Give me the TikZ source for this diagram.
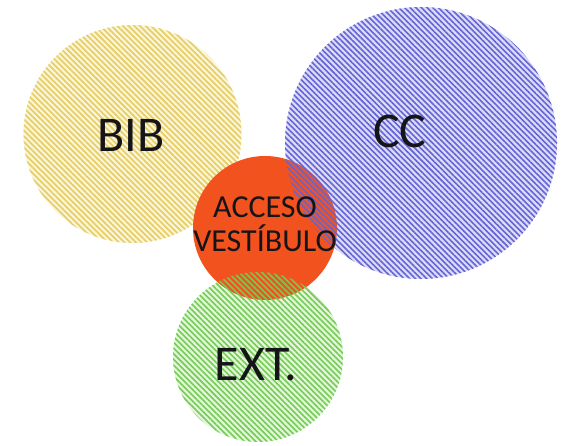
\documentclass[tikz,border=0pt]{standalone}
\usepackage{fontspec}
\setmainfont{Carlito}
\usetikzlibrary{patterns.meta}
\definecolor{bibline}{RGB}{230,204,100}
\definecolor{bibpale}{RGB}{250,245,212}
\definecolor{ccline}{RGB}{100,100,214}
\definecolor{ccpale}{RGB}{220,220,248}
\definecolor{extline}{RGB}{115,205,85}
\definecolor{extpale}{RGB}{228,246,218}
\definecolor{accfill}{RGB}{242,82,30}
\definecolor{txt}{RGB}{20,20,25}
\tikzset{
  bubble/.style={circle, inner sep=0pt, outer sep=0pt, draw=none},
  hatch/.style={pattern={Lines[angle=-45,distance=4bp,line width=1.6bp]}, pattern color=#1},
  bigtext/.style={anchor=base, inner sep=0pt, text=txt, font=\fontsize{50bp}{60bp}\selectfont},
  smalltext/.style={anchor=base, inner sep=0pt, text=txt, font=\fontsize{32bp}{34bp}\selectfont}
}
\begin{document}
\begin{tikzpicture}[x=1bp,y=-1bp]
\useasboundingbox[fill=white] (0,0) rectangle (569,446);
% BIB
\node[bubble, minimum size=218bp, fill=bibpale] (bib) at (132.5,134) {};
\path[hatch=bibline] (bib.center) circle[radius=109];
% CC and EXT pale fills
\node[bubble, minimum size=272bp, fill=ccpale] (cc) at (421,143) {};
\node[bubble, minimum size=170bp, fill=extpale] (ext) at (258,357) {};
% ACCESO
\node[bubble, minimum size=144bp, fill=accfill] (acc) at (265,228) {};
% hatching over the orange circle
\path[hatch=ccline] (cc.center) circle[radius=136];
\path[hatch=extline] (ext.center) circle[radius=85];
% labels
\node[bigtext] (bibt) at (131,152) {BIB};
\node[bigtext] (cct) at (400,148) {CC};
\node[bigtext] (extt) at (256,380) {EXT.};
\node[smalltext] (acct1) at (265,218) {ACCESO};
\node[smalltext] (acct2) at (265,252) {VESTÍBULO};
\end{tikzpicture}
\end{document}
